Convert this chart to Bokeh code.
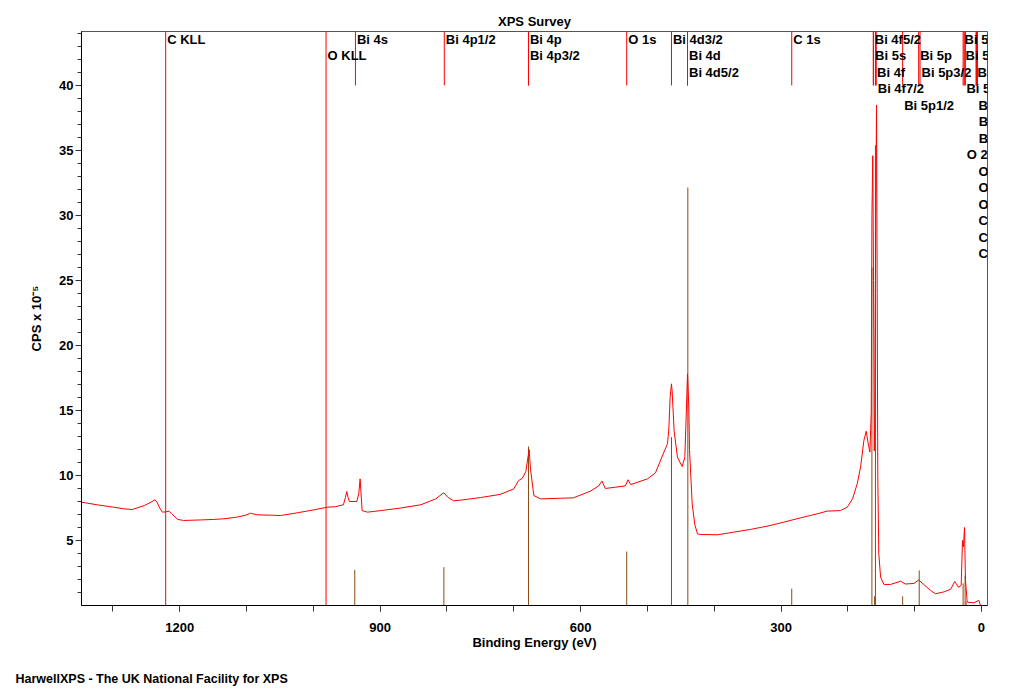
from bokeh.plotting import figure
from bokeh.models import Range1d, FixedTicker, Title, ColumnDataSource
from bokeh.layouts import column
from bokeh.embed import file_html
from bokeh.resources import INLINE
from bokeh.core.properties import value

# ---------------- data ----------------
spectrum_be = [1347, 1323, 1299, 1284, 1271, 1253, 1243, 1237, 1234, 1231, 1226, 1221, 1216, 1212,
               1203, 1194, 1169, 1149, 1134, 1114, 1101, 1094, 1084, 1064, 1049, 1024, 999, 979,
               967, 955, 952, 950, 948, 946, 935, 932, 930, 929, 927, 919, 899, 869, 839, 817,
               805, 798, 790, 780, 750, 720, 700, 693, 687, 682, 677, 675, 670, 660, 630, 611,
               585, 573, 568, 563, 548, 533, 529, 525, 500, 488, 480, 470, 468, 466, 464, 463,
               460, 455, 448, 444, 442, 440, 438, 437, 433, 429, 425, 420, 395, 371, 346, 321,
               296, 271, 246, 231, 211, 201, 193, 186, 181, 176, 172.5, 169.5, 167, 165, 164,
               162.7, 161.6, 160.5, 159.6, 158.3, 157.1, 156.1, 155.2, 153.7, 151, 146, 136,
               121, 114, 101, 94, 86, 76, 69, 56, 46, 40, 34.4, 30.4, 28.4, 27, 25.4, 24, 21.4,
               11.5, 4, 1.5, -3]
spectrum_cps = [7.95, 7.74, 7.56, 7.44, 7.38, 7.69, 7.95, 8.13, 7.95, 7.6, 7.18, 7.2, 7.26, 7.05,
                6.62, 6.54, 6.58, 6.62, 6.67, 6.8, 6.95, 7.1, 6.97, 6.95, 6.92, 7.13, 7.36, 7.56,
                7.6, 7.75, 8.3, 8.77, 8.3, 8.0, 8.0, 8.6, 9.74, 8.9, 7.3, 7.18, 7.3, 7.5, 7.75, 8.2,
                8.67, 8.3, 8.05, 8.1, 8.3, 8.55, 8.97, 9.6, 9.8, 10.3, 12.0, 10.5, 8.46, 8.2, 8.25, 8.28,
                8.8, 9.2, 9.57, 9.0, 9.1, 9.2, 9.67, 9.3, 9.74, 10.2, 11.2, 12.44, 13.5, 16.0, 17.05, 16.5,
                13.4, 11.4, 10.69, 11.4, 14.5, 17.82, 15.26, 12.0, 7.82, 6.2, 5.51, 5.46, 5.44, 5.64, 5.85, 6.1,
                6.41, 6.74, 7.05, 7.26, 7.3, 7.56, 8.2, 9.36, 10.64, 12.7, 13.4, 12.44, 11.8, 14.87, 30.0,
                34.6, 25.0, 11.9, 15.1, 30.0, 38.5, 24.0, 10.0, 4.0, 2.18, 1.62, 1.62,
                1.87, 1.65, 1.7, 1.97, 1.6, 1.15, 0.9, 1.05, 1.25, 1.85, 1.4, 1.55, 5.0, 4.5, 6.0, 2.0, 0.26,
                0.2, 0.4, 0.0, 0.0]

# labelled peak markers (red): name, binding energy, label row, full-height line
marker_names = ["C KLL", "O KLL", "Bi 4s", "Bi 4p1/2", "Bi 4p", "Bi 4p3/2", "O 1s", "Bi 4d3/2",
                "Bi 4d", "Bi 4d5/2", "C 1s", "Bi 4f5/2", "Bi 5s", "Bi 4f", "Bi 4f7/2", "Bi 5p1/2",
                "Bi 5p", "Bi 5p3/2", "Bi 5d3/2", "Bi 5d", "Bi 6s", "Bi 5d5/2", "Bi 6p", "Bi 6p1/2",
                "Bi 6p3/2", "O 2s", "O 2p", "O 2p1/2", "O 2p3/2", "C 2p", "C 2p1/2", "C 2p3/2"]
marker_be = [1221, 981, 937, 804, 678, 678, 531, 464,
             440, 440, 284, 162, 161.5, 158.6, 157.5, 118,
             94, 92, 27.5, 26, 8.2, 24.7, 6.7, 6.2,
             6.2, 24.2, 6.7, 6.7, 6.7, 6.7, 6.7, 6.7]
marker_rows = [0, 1, 0, 0, 0, 1, 0, 0,
               1, 2, 0, 0, 1, 2, 3, 4,
               1, 2, 0, 1, 2, 3, 4, 5,
               6, 7, 8, 9, 10, 11, 12, 13]
marker_full = [True, True] + [False] * 30

# reference component lines (brown): binding energy, height (CPS x 10^-5)
ref_be = [938, 804.6, 678, 531, 464, 439.5, 284, 164, 158.7, 160, 118, 93.2, 27.5, 24.5, 23]
ref_height = [2.74, 2.95, 12.23, 4.15, 12.95, 32.15, 1.3, 26.0, 35.4, 0.7, 0.7, 2.7, 1.7, 2.3, 0.3]

x_ticks = [1200, 900, 600, 300, 0]
x_minor_ticks = [1300, 1200, 1100, 1000, 900, 800, 700, 600, 500, 400, 300, 200, 100, 0]
y_ticks = [5, 10, 15, 20, 25, 30, 35, 40]
y_minor_ticks = list(range(1, 45))

footer_text = "HarwellXPS - The UK National Facility for XPS"

# ---------------- figure ----------------
FONT = "Liberation Sans"
Y_TOP = 44.15
ROW_PITCH = 16.5

p = figure(width=1016, height=653,
           x_range=Range1d(1347, -9), y_range=Range1d(0, Y_TOP),
           output_backend="svg", toolbar_location=None,
           min_border_left=81, min_border_right=29, min_border_top=31, min_border_bottom=48)

p.title.text = "XPS Survey"
p.title.align = "center"
p.title.text_font = FONT
p.title.text_font_size = "13px"
p.title.text_font_style = "bold"
p.title.text_color = "black"
p.title.standoff = 5

p.grid.visible = False
p.outline_line_color = "#555555"
p.outline_line_width = 1
p.background_fill_color = "white"
p.border_fill_color = "white"

# reference lines (brown)
p.segment(x0=ref_be, y0=[0] * len(ref_be), x1=ref_be, y1=ref_height,
          line_color="#8B4A14", line_width=1)

# spectrum
p.line(spectrum_be, spectrum_cps, line_color="#FF0000", line_width=1)

# marker lines and labels
src = ColumnDataSource(dict(
    x=marker_be,
    y0=[0 if f else 40 for f in marker_full],
    y1=[Y_TOP] * len(marker_be),
    ytxt=[Y_TOP] * len(marker_be),
    yoff=[0 + ROW_PITCH * r for r in marker_rows],
    name=marker_names,
))
p.segment(x0="x", y0="y0", x1="x", y1="y1", source=src, line_color="#FF0000", line_width=1)
p.text(x="x", y="ytxt", text="name", source=src, x_offset=1.5, y_offset="yoff",
       text_font=value(FONT), text_font_size="13px", text_font_style="bold",
       text_color="black", text_baseline="top", text_align="left")

# axes
for ax in (p.xaxis[0], p.yaxis[0]):
    ax.axis_line_color = "black"
    ax.major_tick_line_color = "#333333"
    ax.minor_tick_line_color = "#333333"
    ax.major_tick_in = 0
    ax.minor_tick_in = 0
    ax.major_label_text_font = FONT
    ax.major_label_text_font_size = "13px"
    ax.major_label_text_font_style = "bold"
    ax.major_label_text_color = "black"
    ax.axis_label_text_font = FONT
    ax.axis_label_text_font_size = "13px"
    ax.axis_label_text_font_style = "bold"
    ax.axis_label_text_color = "black"

p.xaxis.ticker = FixedTicker(ticks=x_ticks, minor_ticks=x_minor_ticks)
p.xaxis.major_tick_out = 6
p.xaxis.minor_tick_out = 6
p.xaxis.major_label_standoff = 11
p.xaxis.axis_label = "Binding Energy (eV)"
p.xaxis.axis_label_standoff = 0

p.yaxis.ticker = FixedTicker(ticks=y_ticks, minor_ticks=y_minor_ticks)
p.yaxis.major_tick_out = 6
p.yaxis.minor_tick_out = 4
p.yaxis.major_label_standoff = 2
p.yaxis.axis_label = "CPS x 10\u207b\u2075"
p.yaxis.axis_label_standoff = 12

# footer strip
f = figure(width=1016, height=37, output_backend="svg", toolbar_location=None,
           x_range=Range1d(0, 1), y_range=Range1d(0, 1),
           x_axis_location=None, y_axis_location=None,
           min_border_left=81, min_border_right=29, min_border_top=32, min_border_bottom=0)
f.grid.visible = False
f.outline_line_color = None
f.background_fill_color = "white"
f.border_fill_color = "white"
f.add_layout(Title(text=footer_text, align="left", offset=-66, standoff=0,
                   text_font=FONT, text_font_size="12.5px", text_font_style="bold",
                   text_color="black"), "above")

open("out.html", "w").write(file_html(column(p, f), INLINE))
